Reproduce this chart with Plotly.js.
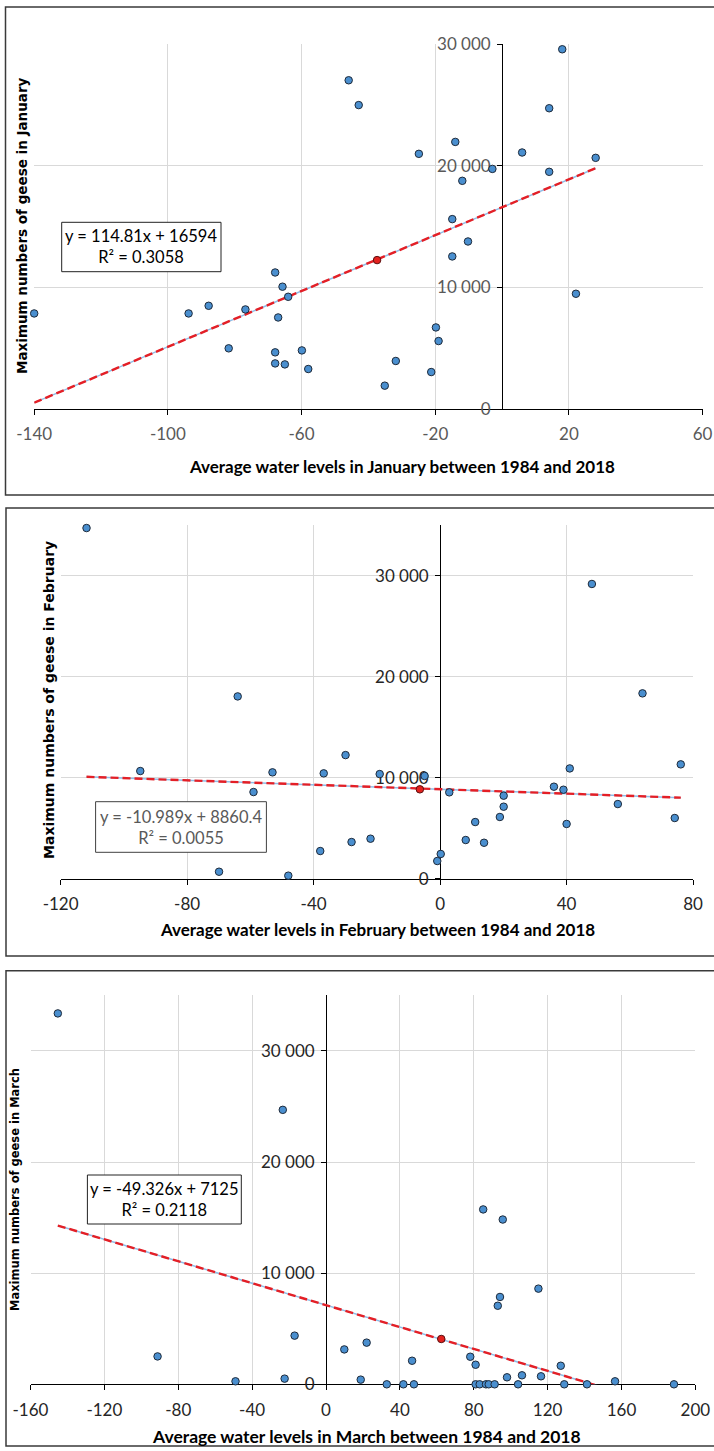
<!DOCTYPE html>
<html>
<head>
<meta charset="utf-8">
<script src="https://cdn.plot.ly/plotly-3.0.1.min.js"></script>
<style>
  html, body { margin: 0; padding: 0; background: #fff; }
  #chart { width: 714px; height: 1451px; }
</style>
</head>
<body>
<div id="chart"></div>
<script>
// ---------------- DATA ----------------
// January
const janX = [-45.9, -42.9, 18.0, 14.1, -14.0, -24.9, 6.0, 28.0, -2.9, 14.1, -11.9, -14.9, -10.2, -14.9,
              -67.9, -65.7, -64.0, 22.1, -140.0, -93.8, -87.8, -76.8, -67.0, -19.8, -19.0, -81.8, -67.9,
              -59.9, -67.9, -65.0, -58.0, -31.8, -21.2, -35.1];
const janY = [27040, 25000, 29590, 24740, 21970, 20990, 21100, 20660, 19750, 19510, 18770, 15620, 13780, 12550,
              11230, 10060, 9230, 9480, 7860, 7860, 8490, 8190, 7530, 6710, 5590, 4990, 4660,
              4820, 3750, 3670, 3290, 3950, 3040, 1920];
const janMeanX = [-37.4];
const janMeanY = [12250];
const janSlope = 114.81, janIntercept = 16594;
const janEquation = ["y = 114.81x + 16594", "R² = 0.3058"];

// February
const febX = [-111.8, 48.0, -64.0, 64.0, -94.8, -53.0, -36.8, -29.9, -19.1, -4.9, -59.0, 2.9, 20.1, 20.1,
              18.9, 36.0, 39.0, 41.0, 40.0, 11.1, 56.2, 74.2, 76.1, 8.1, 13.9, -22.0, -28.0, -37.9,
              0.2, -0.9, -69.9, -48.0];
const febY = [34720, 29180, 18050, 18350, 10660, 10530, 10430, 12240, 10360, 10170, 8580, 8550, 8220, 7130,
              6110, 9110, 8810, 10920, 5420, 5610, 7390, 6010, 11320, 3830, 3560, 3960, 3630, 2740,
              2450, 1750, 690, 300];
const febMeanX = [-6.4];
const febMeanY = [8850];
const febSlope = -10.989, febIntercept = 8860.4;
const febEquation = ["y = -10.989x + 8860.4", "R² = 0.0055"];

// March
const marX = [-145.2, -23.4, 85.1, 95.7, 115.0, 94.2, 93.0, -17.0, 22.0, 9.9, -91.2, 78.1, 46.6, 81.0,
              127.1, 98.0, 106.1, 116.4, -22.4, 18.8, -49.0, 156.5, 32.9, 41.9, 47.6, 81.0, 83.2,
              86.6, 88.1, 91.3, 104.0, 129.0, 141.3, 188.4];
const marY = [33380, 24700, 15740, 14830, 8610, 7860, 7070, 4380, 3750, 3140, 2510, 2480, 2120, 1760,
              1670, 630, 810, 720, 510, 420, 270, 270, 0, 0, 0, 0, 0,
              0, 0, 0, 0, 0, 0, 0];
const marMeanX = [62.4];
const marMeanY = [4080];
const marSlope = -49.326, marIntercept = 7125;
const marEquation = ["y = -49.326x + 7125", "R² = 0.2118"];

// Tick values / labels
const janXTicks = [-140, -100, -60, -20, 20, 60];
const febXTicks = [-120, -80, -40, 0, 40, 80];
const marXTicks = [-160, -120, -80, -40, 0, 40, 80, 120, 160, 200];
const janYTicks = [0, 10000, 20000, 30000];
const febYTicks = [0, 10000, 20000, 30000];
const marYTicks = [0, 10000, 20000, 30000];
const yTickLabels = ["0", "10 000", "20 000", "30 000"];

const janXTitle = "Average water levels in January between 1984 and 2018";
const febXTitle = "Average water levels in February between 1984 and 2018";
const marXTitle = "Average water levels in March between 1984 and 2018";
const janYTitle = "Maximum numbers of geese in January";
const febYTitle = "Maximum numbers of geese in February";
const marYTitle = "Maximum numbers of geese in March";

// ---------------- LAYOUT GEOMETRY (pixels in the 714x1451 page) ----------------
const W = 714, H = 1451;
const fx = px => px / W;
const fy = py => 1 - py / H;

const panels = [
  { id: '', X: janX, Y: janY, MX: janMeanX, MY: janMeanY, slope: janSlope, icpt: janIntercept, eq: janEquation,
    xr: [-140, 60], yr: [0, 30000], xt: janXTicks, yt: janYTicks,
    L: 34.2, R: 702.6, T: 44.3, B: 409,
    tickColor: '#595959', eqColor: '#000000', eqBorder: '#222222',
    eqBox: [61.7, 222.3, 221, 271.7],
    xTitle: janXTitle, xTitlePos: [402, 466], yTitle: janYTitle, yTitlePos: [22, 226], yTitleSize: 13.5,
    xTitleSize: 17, frame: [5.5, 7, 720, 495] },
  { id: '2', X: febX, Y: febY, MX: febMeanX, MY: febMeanY, slope: febSlope, icpt: febIntercept, eq: febEquation,
    xr: [-120, 80], yr: [0, 35000], xt: febXTicks, yt: febYTicks,
    L: 60.6, R: 693.1, T: 525.2, B: 878.7,
    tickColor: '#262626', eqColor: '#595959', eqBorder: '#404040',
    eqBox: [95.6, 801.7, 266.4, 852.3],
    xTitle: febXTitle, xTitlePos: [377, 929], yTitle: febYTitle, yTitlePos: [49, 700], yTitleSize: 14,
    xTitleSize: 17, frame: [6, 508, 720, 956] },
  { id: '3', X: marX, Y: marY, MX: marMeanX, MY: marMeanY, slope: marSlope, icpt: marIntercept, eq: marEquation,
    xr: [-160, 200], yr: [0, 35000], xt: marXTicks, yt: marYTicks,
    L: 30.5, R: 695.4, T: 995.4, B: 1384.3,
    tickColor: '#262626', eqColor: '#000000', eqBorder: '#222222',
    eqBox: [87.4, 1175, 241.3, 1224],
    xTitle: marXTitle, xTitlePos: [367, 1436], yTitle: marYTitle, yTitlePos: [15, 1190], yTitleSize: 11.5,
    xTitleSize: 17.5, frame: [6, 970.7, 720, 1446] }
];

const TICK_FONT = 'Lato, "Open Sans", sans-serif';
const TITLE_FONT = 'Lato, "Open Sans", sans-serif';
const YTITLE_FONT = '"DejaVu Sans", Verdana, sans-serif';

const traces = [];
const layout = {
  width: W, height: H,
  margin: { l: 0, r: 0, t: 0, b: 0, pad: 0 },
  paper_bgcolor: '#ffffff', plot_bgcolor: '#ffffff',
  showlegend: false,
  separators: '. ',
  shapes: [], annotations: []
};

panels.forEach(p => {
  const xa = 'x' + p.id, ya = 'y' + p.id;
  const xKey = 'xaxis' + p.id, yKey = 'yaxis' + p.id;

  // trend line across the data's x extent (clipped to the plot area by the library)
  const xmin = Math.min(...p.X), xmax = Math.max(...p.X);
  const lx = [xmin, xmax];
  const ly = lx.map(v => p.slope * v + p.icpt);
  traces.push({ x: lx, y: ly, xaxis: xa, yaxis: ya, type: 'scatter', mode: 'lines',
    line: { color: '#8FBDE6', width: 1.5 }, hoverinfo: 'skip' });
  traces.push({ x: lx, y: ly, xaxis: xa, yaxis: ya, type: 'scatter', mode: 'lines',
    line: { color: '#E41F26', width: 2.4, dash: '8px,4px' }, hoverinfo: 'skip' });
  // data points
  traces.push({ x: p.X, y: p.Y, xaxis: xa, yaxis: ya, type: 'scatter', mode: 'markers', cliponaxis: false,
    marker: { size: 7.5, color: '#4A8FCF', line: { color: '#1E2A3A', width: 1 } } });
  // mean point
  traces.push({ x: p.MX, y: p.MY, xaxis: xa, yaxis: ya, type: 'scatter', mode: 'markers', cliponaxis: false,
    marker: { size: 7.5, color: '#E3211E', line: { color: '#5A1010', width: 1 } } });

  const x0frac = (0 - p.xr[0]) / (p.xr[1] - p.xr[0]);
  const yAxisPx = p.L + x0frac * (p.R - p.L);

  layout[xKey] = {
    domain: [fx(p.L), fx(p.R)], range: p.xr, anchor: ya,
    tickmode: 'array', tickvals: p.xt, ticktext: p.xt.map(v => String(v)),
    ticks: 'outside', ticklen: 5, tickcolor: '#000', tickwidth: 1,
    ticklabelstandoff: 5,
    showline: true, linecolor: '#000', linewidth: 1,
    showgrid: true, gridcolor: '#D9D9D9', gridwidth: 1, zeroline: false,
    tickfont: { family: TICK_FONT, size: 17, color: p.tickColor },
    layer: 'below traces', fixedrange: true
  };
  layout[yKey] = {
    domain: [fy(p.B), fy(p.T)], range: p.yr, anchor: 'free', position: fx(yAxisPx), side: 'left',
    tickmode: 'array', tickvals: p.yt, ticktext: yTickLabels,
    ticks: 'outside', ticklen: 5, tickcolor: '#000', tickwidth: 1,
    ticklabelstandoff: 3,
    showline: true, linecolor: '#000', linewidth: 1.3,
    showgrid: true, gridcolor: '#D9D9D9', gridwidth: 1, zeroline: false,
    tickfont: { family: TICK_FONT, size: 17, color: p.tickColor },
    layer: 'below traces', fixedrange: true
  };

  // panel frame
  layout.shapes.push({ type: 'rect', xref: 'paper', yref: 'paper',
    x0: fx(p.frame[0]), x1: fx(p.frame[2]), y0: fy(p.frame[3]), y1: fy(p.frame[1]),
    line: { color: '#3A3A3A', width: 1.5 }, fillcolor: 'rgba(0,0,0,0)', layer: 'below' });

  // equation box (frame + text)
  const b = p.eqBox;
  layout.shapes.push({ type: 'rect', xref: 'paper', yref: 'paper',
    x0: fx(b[0]), x1: fx(b[2]), y0: fy(b[3]), y1: fy(b[1]),
    line: { color: p.eqBorder, width: 1 }, fillcolor: '#ffffff', layer: 'above' });
  layout.annotations.push({
    xref: 'paper', yref: 'paper', x: fx((b[0] + b[2]) / 2), y: fy((b[1] + b[3]) / 2),
    xanchor: 'center', yanchor: 'middle', showarrow: false,
    text: p.eq.join('<br>'), align: 'center',
    font: { family: TICK_FONT, size: 16.5, color: p.eqColor }
  });

  // axis titles
  layout.annotations.push({
    xref: 'paper', yref: 'paper', x: fx(p.xTitlePos[0]), y: fy(p.xTitlePos[1]),
    xanchor: 'center', yanchor: 'middle', showarrow: false,
    text: '<b>' + p.xTitle + '</b>',
    font: { family: TITLE_FONT, size: p.xTitleSize, color: '#000' }
  });
  layout.annotations.push({
    xref: 'paper', yref: 'paper', x: fx(p.yTitlePos[0]), y: fy(p.yTitlePos[1]),
    xanchor: 'center', yanchor: 'middle', showarrow: false, textangle: -90,
    text: '<b>' + p.yTitle + '</b>',
    font: { family: YTITLE_FONT, size: p.yTitleSize, color: '#000' }
  });
});

Plotly.newPlot('chart', traces, layout, { staticPlot: true, displayModeBar: false });
</script>
</body>
</html>
